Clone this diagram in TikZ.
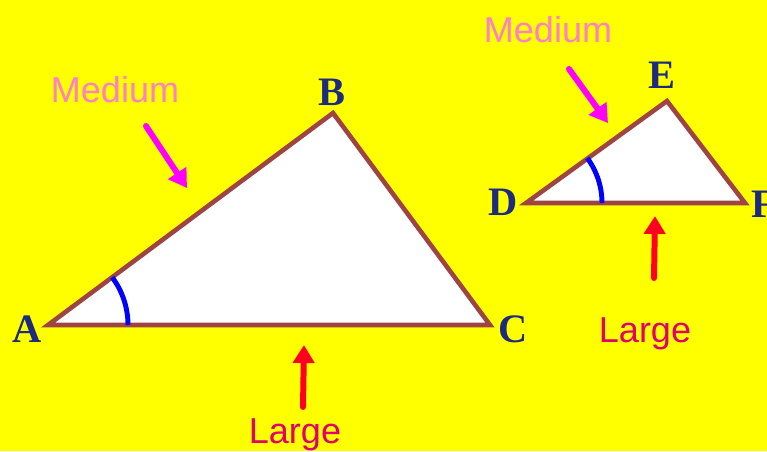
\documentclass[tikz,border=0pt]{standalone}
\usepackage{fontspec}
\setmainfont{Liberation Serif}
\setsansfont{Liberation Sans}
\usepackage{xcolor}
\usepackage{tikz}
\usetikzlibrary{arrows.meta, positioning}
\definecolor{kyellow}{HTML}{FFFF00}
\definecolor{kbrown}{HTML}{9E4444}
\definecolor{knavy}{HTML}{1C2A80}
\definecolor{kpink}{HTML}{FF80C8}
\definecolor{kcrimson}{HTML}{E0006E}
\definecolor{kred}{HTML}{FF0020}
\definecolor{kmagenta}{HTML}{FF00FF}
\definecolor{kblue}{HTML}{0000FF}

\begin{document}
\begin{tikzpicture}[x=0.02cm, y=-0.02cm,
  side/.style={draw=kbrown, fill=white, line width=2.6pt, line join=miter},
  anglearc/.style={draw=kblue, line width=2.8pt},
  vertex/.style={font=\fontsize{23}{23}\selectfont\bfseries, text=knavy, inner sep=0pt, anchor=base},
  tag/.style={font=\sffamily\fontsize{20.5}{20.5}\selectfont, inner sep=0pt, anchor=base},
  pointer/.style={line width=3.4pt, line cap=round, -{Triangle[length=0.36cm, width=0.42cm]}}]
\clip (0,0) rectangle (767,451);
\fill[kyellow] (0,0) rectangle (767,451);
% big triangle
\coordinate (A) at (48,325);
\coordinate (B) at (333,113);
\coordinate (C) at (490,325);
\draw[side] (A) -- (B) -- (C) -- cycle;
\draw[anglearc] (A) ++(80,0) arc[start angle=0, end angle=-36.6, radius=80];
\node[vertex] (lA) at (27,342) {A};
\node[vertex] (lB) at (332,105) {B};
\node[vertex] (lC) at (513,342) {C};
% small triangle
\coordinate (D) at (526,203);
\coordinate (E) at (667,101);
\coordinate (F) at (745,203);
\draw[side] (D) -- (E) -- (F) -- cycle;
\draw[anglearc] (D) ++(76,0) arc[start angle=0, end angle=-36.2, radius=76];
\node[vertex] (lD) at (503,215) {D};
\node[vertex] (lE) at (662,88) {E};
\node[vertex] (lF) at (764,217) {F};
% side tags
\node[tag, text=kpink] (medL) at (115,102) {Medium};
\node[tag, text=kpink] (medR) at (548,42) {Medium};
\node[tag, text=kcrimson] (larL) at (295,443) {Large};
\node[tag, text=kcrimson] (larR) at (645,342) {Large};
\coordinate (m1t) at (146,126);
\coordinate (m1h) at (187,188);
\coordinate (m2t) at (569,69);
\coordinate (m2h) at (608,123);
\coordinate (r1t) at (303,407);
\coordinate (r1h) at (304,345);
\coordinate (r2t) at (654,278);
\coordinate (r2h) at (655,216);
\draw[pointer, kmagenta] (m1t) -- (m1h);
\draw[pointer, kmagenta] (m2t) -- (m2h);
\draw[pointer, kred] (r1t) -- (r1h);
\draw[pointer, kred] (r2t) -- (r2h);
\end{tikzpicture}
\end{document}
